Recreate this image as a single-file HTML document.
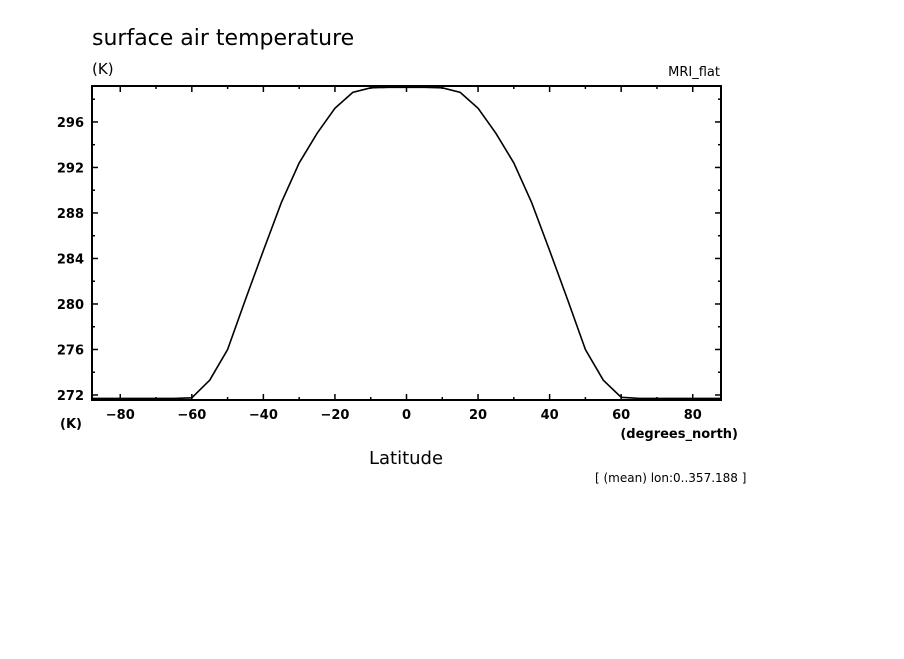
<!DOCTYPE html>
<html><head><meta charset="utf-8"><style>
body{margin:0;background:#fff;}
svg text{font-family:"DejaVu Sans","Liberation Sans",sans-serif;fill:#000;}
</style></head><body>
<svg id="chart" width="904" height="654" xmlns="http://www.w3.org/2000/svg">
<rect width="904" height="654" fill="#fff"/>
<text x="92" y="45" font-size="22">surface air temperature</text>
<text x="92" y="74" font-size="15">(K)</text>
<text x="720" y="76" font-size="13" text-anchor="end">MRI_flat</text>
<text x="60" y="428" font-size="13" font-weight="bold">(K)</text>
<text x="738" y="438" font-size="13" font-weight="bold" text-anchor="end">(degrees_north)</text>
<text x="406" y="464" font-size="18" text-anchor="middle">Latitude</text>
<text x="595" y="482" font-size="12">[ (mean) lon:0..357.188 ]</text>
<g id="axes"></g>
<path id="series" fill="none" stroke="#000" stroke-width="1.6"/>
<rect x="92" y="86" width="629" height="314" fill="none" stroke="#000" stroke-width="2"/>
</svg>
<script>
const lats=[-87.9,-80,-75,-70,-65,-60,-55,-50,-45,-40,-35,-30,-25,-20,-15,-10,-5,0,5,10,15,20,25,30,35,40,45,50,55,60,65,70,75,80,87.9];
const temps=[271.7,271.7,271.7,271.7,271.7,271.75,273.3,276.0,280.4,284.7,288.9,292.4,295.0,297.2,298.6,299.0,299.05,299.05,299.05,299.0,298.6,297.2,295.0,292.4,288.9,284.7,280.4,276.0,273.3,271.8,271.7,271.7,271.7,271.7,271.7];
const xTicks=[-80,-60,-40,-20,0,20,40,60,80];
const yTicks=[272,276,280,284,288,292,296];
const L=92,R=721,T=86,B=400;
const xMin=-87.9,xMax=87.9,yMin=271.56,yMax=299.16;
const xs=v=>L+(v-xMin)/(xMax-xMin)*(R-L);
const ys=v=>B-(v-yMin)/(yMax-yMin)*(B-T);
const NS='http://www.w3.org/2000/svg';
const g=document.getElementById('axes');
function line(x1,y1,x2,y2,name){const l=document.createElementNS(NS,'line');
l.setAttribute('x1',x1);l.setAttribute('y1',y1);l.setAttribute('x2',x2);l.setAttribute('y2',y2);
l.setAttribute('stroke','#000');l.setAttribute('stroke-width','1.5');


g.appendChild(l);}
function text(x,y,s,anchor,name){const t=document.createElementNS(NS,'text');
t.setAttribute('x',x);t.setAttribute('y',y);t.setAttribute('font-size','13');t.setAttribute('font-weight','bold');t.setAttribute('text-anchor',anchor);
t.textContent=s;


g.appendChild(t);}
for(let v=-80;v<=80;v+=10){const x=xs(v);const len=(v%20===0)?6:3;
line(x,B,x,B-len,'x-tick');line(x,T,x,T+len,'x-tick-top');}
xTicks.forEach(v=>text(xs(v),419,v<0?'\u2212'+Math.abs(v):String(v),'middle','x-tick-label'));
for(let v=272;v<=298;v+=2){const y=ys(v);const len=(v%4===0)?6:3;
line(L,y,L+len,y,'y-tick');line(R,y,R-len,y,'y-tick-right');}
yTicks.forEach(v=>text(84,ys(v)+5,String(v),'end','y-tick-label'));
let d='';lats.forEach((la,i)=>{d+=(i?'L':'M')+xs(la).toFixed(1)+','+ys(temps[i]).toFixed(1);});
document.getElementById('series').setAttribute('d',d);
</script>
</body></html>
